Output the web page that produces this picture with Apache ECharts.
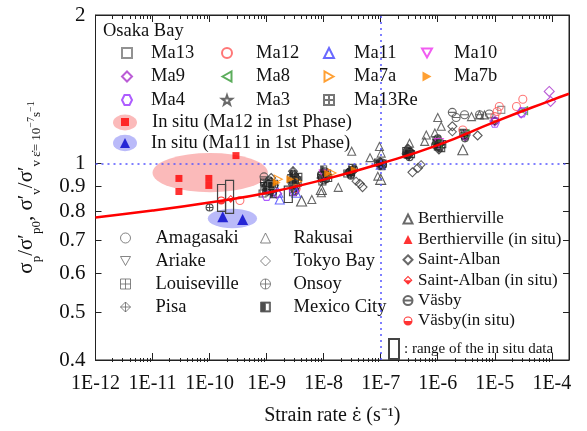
<!DOCTYPE html>
<html>
<head>
<meta charset="utf-8">
<script src="https://cdn.jsdelivr.net/npm/echarts@6/dist/echarts.min.js"></script>
<style>
html, body { margin: 0; padding: 0; background: #fff; }
#chart { width: 587px; height: 431px; }
</style>
</head>
<body>
<div id="chart"></div>
<script>
// 曲線 (strain rate -> normalized ratio)
var curveRates = [1e-12, 1e-11, 1e-10, 1e-9, 1e-8, 1e-7, 1e-6, 1e-5, 1e-4, 2e-4];
var curveRatio = [0.778, 0.803, 0.834, 0.872, 0.928, 1.0, 1.09, 1.215, 1.345, 1.385];

var xTickLabels = [1e-12, 1e-11, 1e-10, 1e-9, 1e-8, 1e-7, 1e-6, 1e-5, 1e-4];
var yTickLabels = [0.4, 0.5, 0.6, 0.7, 0.8, 0.9, 1, 2];

// Osaka Bay
var ma13 = [[9e-10, 0.88], [1.2e-9, 0.905], [3.1e-9, 0.92], [1e-8, 0.94], [1e-7, 1.0], [1e-6, 1.09], [1.3e-5, 1.285]];
var ma12 = [[3.4e-10, 0.842], [3.3e-9, 0.89], [2.75e-6, 1.17], [1e-5, 1.245], [1.1e-5, 1.275], [1.2e-5, 1.305], [2.4e-5, 1.305], [3.1e-5, 1.35]];
var ma11 = [[1.6e-9, 0.873], [1.7e-9, 0.846], [3.3e-9, 0.873], [1e-7, 0.995]];
var ma10 = [[1e-8, 0.95], [1.05e-6, 1.1]];
var ma9 = [[1.5e-9, 0.87], [3e-6, 1.14], [1e-5, 1.22], [2.9e-5, 1.267], [9e-5, 1.40], [9.5e-5, 1.336]];
var ma8 = [[1e-6, 1.1], [3e-6, 1.15], [3.2e-5, 1.28]];
var ma7a = [[1.6e-9, 0.93], [3.5e-9, 0.92], [1.4e-8, 0.957]];
var ma7b = [[1.5e-9, 0.915], [2.6e-9, 0.93], [1.2e-8, 0.955], [3.5e-8, 0.97]];
var ma4 = [[1e-9, 0.86], [3e-9, 0.88], [1e-5, 1.21], [3e-5, 1.27]];
var ma3 = [[1e-8, 0.94], [1e-7, 1.0]];
var ma13Re = [[3e-7, 1.05], [3e-9, 0.91]];
var inSituMa12 = [[2.9e-11, 0.933], [2.9e-11, 0.878], [9.7e-11, 0.933], [9.7e-11, 0.903], [2.9e-10, 1.038]];
var inSituMa11 = [[1.7e-10, 0.78], [3.8e-10, 0.77]];

// other sites
var amagasaki = [[9.5e-10, 0.895], [1.25e-9, 0.905], [2.8e-9, 0.925], [3.3e-9, 0.9], [9e-9, 0.945], [1.1e-8, 0.93], [2.9e-8, 0.965], [3.4e-8, 0.975], [9.5e-8, 1.0], [1.05e-7, 1.005], [2.9e-7, 1.045], [3.3e-7, 1.055], [9e-7, 1.09], [1.1e-6, 1.1], [2.9e-6, 1.14], [3.2e-6, 1.15], [1e-5, 1.22],
    [1.1e-9, 0.88], [1.05e-9, 0.91], [3e-9, 0.89], [1e-8, 0.925], [3e-8, 0.95], [1e-7, 0.995], [3e-7, 1.04], [1e-6, 1.085], [3e-6, 1.135]];
var ariake = [[1.05e-9, 0.875], [1.4e-9, 0.89], [3e-9, 0.905], [1e-8, 0.955], [3.1e-8, 0.955], [1e-7, 0.99], [3.1e-7, 1.035], [1.05e-6, 1.08], [3.1e-6, 1.13], [1e-5, 1.215],
    [9e-10, 0.9], [2.7e-9, 0.9], [9.5e-9, 0.935], [3.2e-8, 0.97], [9.2e-8, 1.0], [2.9e-7, 1.05], [9.5e-7, 1.1], [2.9e-6, 1.15]];
var louiseville = [[9e-10, 0.915], [1.15e-9, 0.885], [2.7e-9, 0.935], [3.5e-9, 0.915], [9.5e-9, 0.92], [1.15e-8, 0.955], [3.2e-8, 0.98], [9e-8, 1.005], [2.8e-7, 1.06], [9.5e-7, 1.115], [1.15e-6, 1.075], [2.8e-6, 1.155],
    [8.5e-10, 0.87], [1.35e-9, 0.91], [2.9e-9, 0.875], [3.6e-9, 0.94], [1.2e-8, 0.935], [2.6e-8, 0.955], [1.08e-7, 1.0], [3.4e-7, 1.045], [1.2e-6, 1.095]];
var onsoy = [[1e-10, 0.815], [1.1e-9, 0.925], [1.3e-9, 0.875], [3.2e-9, 0.88], [1.05e-8, 0.965], [3e-8, 0.945], [1.1e-7, 0.995], [3.2e-7, 1.03], [1e-6, 1.125], [3e-6, 1.125],
    [1.2e-9, 0.9], [2.9e-9, 0.915], [9e-9, 0.95], [2.8e-8, 0.96], [1e-7, 1.0], [2.8e-7, 1.045], [1.1e-6, 1.1]];
var pisa = [[1e-9, 0.905], [1.2e-9, 0.92], [3.1e-9, 0.95], [3.4e-9, 0.935], [9e-9, 0.935], [2.7e-8, 0.96], [9.8e-8, 1.01], [3e-7, 1.075], [1.05e-6, 1.065],
    [1.1e-9, 0.89], [3.3e-9, 0.905], [1.1e-8, 0.94], [3.3e-8, 0.965], [1.05e-7, 1.0], [3.2e-7, 1.06], [9.5e-7, 1.095]];
var mexicoCity = [[1.3e-9, 0.865], [2.9e-9, 0.955], [1e-8, 0.975], [1.05e-7, 0.985], [3.1e-7, 1.05], [1e-6, 1.095],
    [1e-9, 0.885], [3.2e-9, 0.925], [1.1e-8, 0.95], [3.1e-8, 0.96], [9.6e-8, 1.0], [2.9e-7, 1.04], [9.8e-7, 1.08]];
var rakusai = [[2.75e-6, 1.067], [1e-7, 0.929], [4.1e-9, 0.84], [9.1e-9, 0.886]];
var tokyoBay = [[4.3e-8, 0.91], [4.8e-8, 0.896], [3.6e-7, 0.96], [4.5e-7, 0.98], [1.8e-6, 1.19], [5e-6, 1.14], [2.9e-9, 0.965], [1.2e-9, 0.935]];
var berthierville = [[3.1e-8, 1.059], [9.5e-8, 1.083], [1.02e-7, 1.05], [6.5e-8, 1.028], [8.9e-8, 0.943], [3.2e-7, 1.10], [2.8e-7, 1.067], [6.3e-7, 1.143], [5.9e-7, 1.109], [8.9e-7, 1.154], [1e-6, 1.24], [1.15e-6, 1.19], [3.9e-6, 1.245], [5.4e-6, 1.255], [6.6e-6, 1.255], [9.1e-9, 0.873], [1.8e-8, 0.895], [6.2e-9, 0.846], [2.9e-9, 0.965]];
var berthiervilleInSitu = [];
var saintAlban = [[5.1e-7, 0.995], [1.8e-6, 1.16], [2.9e-9, 0.937], [3.7e-8, 0.921]];
var saintAlbanInSitu = [[2.35e-10, 0.848]];
var vasby = [[1.8e-6, 1.27], [2.1e-6, 1.24], [2.95e-6, 1.256], [5.4e-6, 1.256], [8e-6, 1.26], [9e-10, 0.94]];
var vasbyInSitu = [[1.6e-10, 0.842]];

// range of the in situ data
var rangeRates = [1.62e-10, 2.24e-10, 2.4e-9];
var rangeLow = [0.80, 0.793, 0.834];
var rangeHigh = [0.907, 0.925, 0.90];

// shaded areas [xMin, xMax, yMin, yMax]
var areaMa12 = [1e-11, 1.05e-9, 0.875, 1.05];
var areaMa11 = [9.3e-11, 6.8e-10, 0.74, 0.81];

// reference lines
var refRate = 1e-7;
var refRatio = 1;

var FONT = 'Liberation Serif';
var SQ = 'path://M0,0H10V10H0Z';
var DTRI = 'path://M0,0H10L5,9Z';
var LTRI = 'path://M0,5L9,0V10Z';
var RTRI = 'path://M9,5L0,0V10Z';
var HEX = 'path://M2.5,0H7.5L10,5L7.5,10H2.5L0,5Z';
var STAR = 'path://M5,0L6.2,3.6H10L7,5.9L8.1,9.5L5,7.3L1.9,9.5L3,5.9L0,3.6H3.8Z';
var SQX = 'path://M0,0H10V10H0Z M5,0V10 M0,5H10';
var CIRX = 'path://M0,5A5,5 0 1,1 10,5A5,5 0 1,1 0,5Z M5,0V10 M0,5H10';
var DIAX = 'path://M5,0L10,5L5,10L0,5Z M5,0V10 M0,5H10';
var CIRL = 'path://M0,5A5,5 0 1,1 10,5A5,5 0 1,1 0,5Z M0,5H10';
var HALFSQ = 'path://M0,0H10V10H0Z M5,1.2V8.8H8.8V1.2Z';
var HALFDIA = 'path://M5,0L10,5L5,10L0,5Z M5,1.7L1.7,5H8.3Z';
var HALFCIR = 'path://M0,5A5,5 0 1,1 10,5A5,5 0 1,1 0,5Z M1.2,5H8.8A3.8,3.8 0 0,0 1.2,5Z';

var myChart = echarts.init(document.getElementById('chart'));

function hollow(name, data, symbol, color, size) {
    return {
        name: name, type: 'scatter', data: data, symbol: symbol, symbolSize: size || 8,
        itemStyle: { color: 'rgba(255,255,255,0)', borderColor: color, borderWidth: 1.1 },
        z: 3
    };
}
function solid(name, data, symbol, color, size) {
    return {
        name: name, type: 'scatter', data: data, symbol: symbol, symbolSize: size || 8,
        itemStyle: { color: color, borderWidth: 0 },
        z: 4
    };
}

function ellipseSeries(area, color) {
    return {
        type: 'custom', data: [area], z: 1, silent: true,
        renderItem: function (params, api) {
            var a = api.coord([api.value(0), api.value(3)]);
            var b = api.coord([api.value(1), api.value(2)]);
            var rx = (b[0] - a[0]) / 2, ry = (b[1] - a[1]) / 2;
            return {
                type: 'circle', x: (a[0] + b[0]) / 2, y: (a[1] + b[1]) / 2,
                scaleY: ry / rx, shape: { cx: 0, cy: 0, r: rx },
                style: { fill: color }
            };
        }
    };
}

var rangeData = rangeRates.map(function (r, i) { return [r, rangeLow[i], rangeHigh[i]]; });

var series = [
    ellipseSeries(areaMa12, 'rgba(245,90,90,0.42)'),
    ellipseSeries(areaMa11, 'rgba(90,90,240,0.42)'),
    hollow('Amagasaki', amagasaki, 'circle', '#222', 7),
    hollow('Rakusai', rakusai, 'triangle', '#333', 10),
    hollow('Ariake', ariake, DTRI, '#222', 7),
    hollow('Tokyo Bay', tokyoBay, 'diamond', '#333', 9),
    hollow('Louiseville', louiseville, SQX, '#222', 7),
    hollow('Onsoy', onsoy, CIRX, '#222', 7),
    hollow('Pisa', pisa, DIAX, '#222', 8),
    solid('Mexico City', mexicoCity, HALFSQ, '#222', 7),
    hollow('Berthierville', berthierville, 'triangle', '#444', 8),
    solid('Berthierville (in situ)', berthiervilleInSitu, 'triangle', '#f00', 8),
    hollow('Saint-Alban', saintAlban, 'diamond', '#444', 8),
    solid('Saint-Alban (in situ)', saintAlbanInSitu, HALFDIA, '#f00', 8),
    hollow('Väsby', vasby, CIRL, '#444', 8),
    solid('Väsby(in situ)', vasbyInSitu, HALFCIR, '#f00', 8),
    hollow('Ma13', ma13, SQ, '#777', 7),
    hollow('Ma12', ma12, 'circle', '#f55', 8),
    hollow('Ma11', ma11, 'triangle', '#44f', 9),
    hollow('Ma10', ma10, DTRI, '#e3e', 9),
    hollow('Ma9', ma9, 'diamond', '#a3c', 10),
    hollow('Ma8', ma8, LTRI, '#393', 8),
    hollow('Ma7a', ma7a, RTRI, '#f80', 8),
    solid('Ma7b', ma7b, RTRI, '#f80', 8),
    hollow('Ma4', ma4, HEX, '#93f', 9),
    hollow('Ma3', ma3, STAR, '#444', 9),
    hollow('Ma13Re', ma13Re, SQX, '#555', 7),
    solid('In situ (Ma12 in 1st Phase)', inSituMa12, 'rect', '#f00', 7),
    solid('In situ (Ma11 in 1st Phase)', inSituMa11, 'triangle', '#00c', 11),
    {
        name: ': range of the in situ data', type: 'custom', data: rangeData, z: 5,
        itemStyle: { color: 'rgba(255,255,255,0)', borderColor: '#444', borderWidth: 1.2 },
        renderItem: function (params, api) {
            var top = api.coord([api.value(0), api.value(2)]);
            var bot = api.coord([api.value(0), api.value(1)]);
            return {
                type: 'rect',
                shape: { x: top[0] - 4, y: top[1], width: 8, height: bot[1] - top[1] },
                style: { fill: 'none', stroke: '#444', lineWidth: 1.2 }
            };
        }
    },
    {
        type: 'line', data: curveRates.map(function (r, i) { return [r, curveRatio[i]]; }),
        smooth: true, symbol: 'none', z: 6, silent: true,
        lineStyle: { color: '#f00', width: 2.5 },
        markLine: {
            silent: true, symbol: 'none', label: { show: false },
            lineStyle: { color: '#55f', type: [2, 4], width: 1.5 },
            data: [
                { yAxis: refRatio },
                [{ coord: [refRate, 0.4] }, { coord: [refRate, 2] }]
            ]
        }
    }
];

var minorX = [];
for (var n = -12; n <= -4; n++) {
    for (var k = 2; k <= 9; k++) {
        var v = k * Math.pow(10, n);
        if (v < 2e-4) minorX.push(v);
    }
}

// legend column; greyIcon lightens the icon like the printed key
function legendCol(names, left, top, size, gap, pad, fontSize, icons, greyIcon) {
    return {
        orient: 'vertical', left: left, top: top, padding: 0, selectedMode: false,
        itemWidth: size, itemHeight: size, itemGap: gap,
        data: names.map(function (nm, i) {
            var d = { name: nm, icon: icons[i] };
            if (greyIcon) d.itemStyle = { borderColor: greyIcon, borderWidth: 1 };
            return d;
        }),
        textStyle: { fontFamily: FONT, fontSize: fontSize, color: '#111', lineHeight: 20, padding: [0, 0, 0, pad] }
    };
}

var option = {
    animation: false,
    backgroundColor: '#fff',
    grid: [
        { left: 95.5, right: 18, top: 15, bottom: 69, show: true, borderColor: '#222', borderWidth: 1 },
        { left: 95.5, right: 18, top: 15, bottom: 69 }
    ],
    xAxis: [
        {
            type: 'log', logBase: 10, min: 1e-12, max: 2e-4, gridIndex: 0, position: 'bottom',
            name: 'Strain rate {e|ε̇} (s⁻¹)', nameLocation: 'middle', nameGap: 46,
            nameTextStyle: {
                fontFamily: FONT, fontSize: 20, color: '#111',
                rich: { e: { fontFamily: 'DejaVu Serif', fontSize: 18, color: '#111' } }
            },
            axisLine: { show: true, lineStyle: { color: '#222' } },
            axisTick: { inside: true, length: 7, customValues: xTickLabels, lineStyle: { color: '#222' } },
            axisLabel: {
                customValues: xTickLabels, margin: 14, fontFamily: FONT, fontSize: 20, color: '#111',
                formatter: function (v) { return '1E' + Math.round(Math.log10(v)); }
            },
            splitLine: { show: false }
        },
        {
            type: 'log', logBase: 10, min: 1e-12, max: 2e-4, gridIndex: 0, position: 'top',
            axisLine: { show: true, lineStyle: { color: '#222' } },
            axisTick: { inside: true, length: 7, customValues: xTickLabels, lineStyle: { color: '#222' } },
            axisLabel: { show: false }, splitLine: { show: false }
        },
        {
            type: 'log', logBase: 10, min: 1e-12, max: 2e-4, gridIndex: 1, position: 'bottom',
            axisLine: { show: false },
            axisTick: { inside: true, length: 4, customValues: minorX, lineStyle: { color: '#222' } },
            axisLabel: { show: false }, splitLine: { show: false }
        },
        {
            type: 'log', logBase: 10, min: 1e-12, max: 2e-4, gridIndex: 1, position: 'top',
            axisLine: { show: false },
            axisTick: { inside: true, length: 4, customValues: minorX, lineStyle: { color: '#222' } },
            axisLabel: { show: false }, splitLine: { show: false }
        }
    ],
    yAxis: [
        {
            type: 'log', logBase: 10, min: 0.4, max: 2, gridIndex: 0, position: 'left',
            name: '{m|σ}{s|p}{m|/σ′}{s|p0}{m|, σ′}{s|v}{m|/σ′}{s|v ε̇= 10}{u|−7}{s|s}{u|−1}',
            nameLocation: 'middle', nameGap: 52, nameRotate: 90,
            nameTextStyle: {
                fontFamily: FONT, color: '#111',
                rich: {
                    m: { fontFamily: FONT, fontSize: 21, lineHeight: 34, verticalAlign: 'middle', color: '#111' },
                    s: { fontFamily: FONT, fontSize: 13, lineHeight: 13, verticalAlign: 'bottom', color: '#111' },
                    u: { fontFamily: FONT, fontSize: 10, lineHeight: 10, verticalAlign: 'bottom', padding: [0, 0, 7, 0], color: '#111' }
                }
            },
            axisLine: { show: true, lineStyle: { color: '#222' } },
            axisTick: { inside: true, length: 6, customValues: yTickLabels, lineStyle: { color: '#222' } },
            axisLabel: {
                customValues: yTickLabels, margin: 10, fontFamily: FONT, fontSize: 21, color: '#111',
                formatter: function (v) { return String(Math.round(v * 10) / 10); }
            },
            splitLine: { show: false }
        },
        {
            type: 'log', logBase: 10, min: 0.4, max: 2, gridIndex: 0, position: 'right',
            axisLine: { show: true, lineStyle: { color: '#222' } },
            axisTick: { inside: true, length: 6, customValues: yTickLabels, lineStyle: { color: '#222' } },
            axisLabel: { show: false }, splitLine: { show: false }
        },
        { type: 'log', logBase: 10, min: 0.4, max: 2, gridIndex: 1, show: false }
    ],
    legend: [
        legendCol(['Ma13', 'Ma9', 'Ma4'], 121, 43, 10, 3.5, 14, 18.5, [SQ, 'diamond', HEX]),
        legendCol(['Ma12', 'Ma8', 'Ma3'], 221, 43, 10, 3.5, 19, 18.5, ['circle', LTRI, STAR]),
        legendCol(['Ma11', 'Ma7a', 'Ma13Re'], 323, 43, 10, 3.5, 15, 18.5, ['triangle', RTRI, SQX]),
        legendCol(['Ma10', 'Ma7b'], 421, 43, 10, 3.5, 17, 18.5, [DTRI, RTRI]),
        legendCol(['In situ (Ma12 in 1st Phase)'], 121, 112, 8, 0, 18, 18.5, ['rect']),
        legendCol(['In situ (Ma11 in 1st Phase)'], 120, 133, 10, 0, 16, 18.5, ['triangle']),
        legendCol(['Amagasaki', 'Ariake', 'Louiseville', 'Pisa'], 120, 228, 10, 3, 20, 18.5, ['circle', DTRI, SQX, DIAX], '#666'),
        legendCol(['Rakusai', 'Tokyo Bay', 'Onsoy', 'Mexico City'], 260, 228, 10, 3, 18, 18.5, ['triangle', 'diamond', CIRX, HALFSQ], '#666'),
        legendCol(['Berthierville', 'Berthierville (in situ)', 'Saint-Alban', 'Saint-Alban (in situ)', 'Väsby', 'Väsby(in situ)'],
            402.5, 209, 9, 0.4, 0.5, 17, ['triangle', 'triangle', 'diamond', HALFDIA, CIRL, HALFCIR]),
        {
            left: 388, top: 338, padding: 0, selectedMode: false, itemWidth: 10, itemHeight: 20,
            data: [{ name: ': range of the in situ data', icon: 'path://M0,0H10V20H0Z' }],
            textStyle: { fontFamily: FONT, fontSize: 15, color: '#111' }
        }
    ],
    graphic: [
        { type: 'text', left: 103, top: 22, style: { text: 'Osaka Bay', font: '18.5px "Liberation Serif"', fill: '#111' } },
        { type: 'circle', x: 125, y: 122.5, scaleY: 0.66, shape: { cx: 0, cy: 0, r: 12 }, style: { fill: 'rgba(245,90,90,0.42)' }, z: 0 },
        { type: 'circle', x: 125, y: 143, scaleY: 0.68, shape: { cx: 0, cy: 0, r: 12 }, style: { fill: 'rgba(90,90,240,0.42)' }, z: 0 }
    ],
    series: series
};

myChart.setOption(option);
window.onresize = function () { myChart.resize(); };
</script>
</body>
</html>
